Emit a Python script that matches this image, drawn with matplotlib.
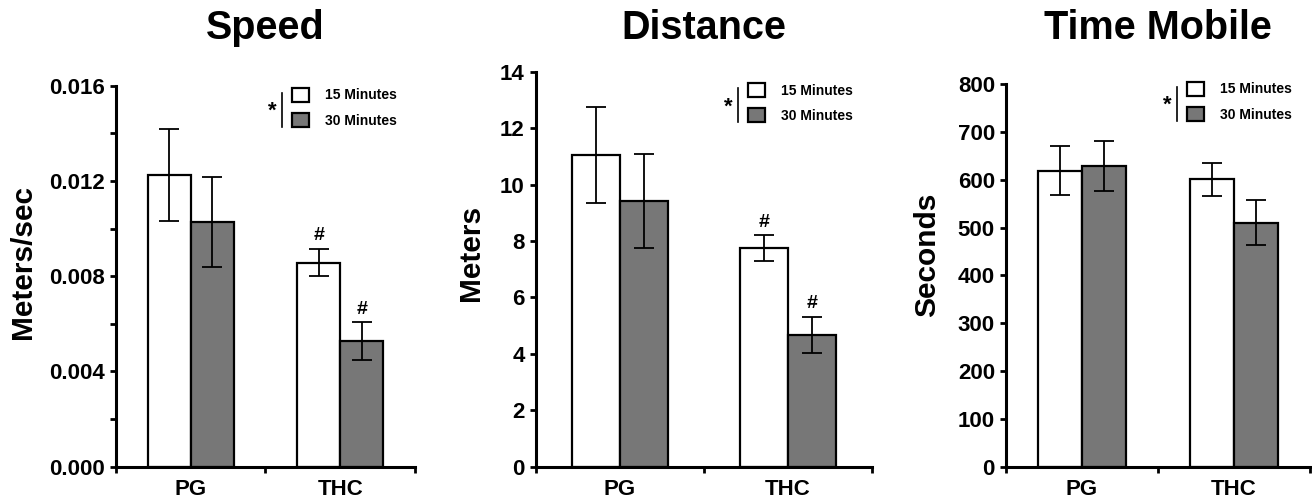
import matplotlib
matplotlib.use("Agg")
import matplotlib.pyplot as plt
import matplotlib.transforms as mtransforms
from matplotlib.ticker import MultipleLocator
import numpy as np

plt.rcParams['font.family'] = ['Liberation Sans', 'DejaVu Sans']
plt.rcParams['font.weight'] = 'bold'

# Data
groups = ["PG", "THC"]
series_labels = ["15 Minutes", "30 Minutes"]
titles = ["Speed", "Distance", "Time Mobile"]
ylabels = ["Meters/sec", "Meters", "Seconds"]

speed_15 = [0.01226, 0.00857]
speed_15_err = [0.00193, 0.00058]
speed_30 = [0.01027, 0.00528]
speed_30_err = [0.00189, 0.00078]

dist_15 = [11.06, 7.74]
dist_15_err = [1.70, 0.46]
dist_30 = [9.42, 4.67]
dist_30_err = [1.68, 0.63]

mobile_15 = [619, 601]
mobile_15_err = [51, 35]
mobile_30 = [629, 510]
mobile_30_err = [52, 47]

# '#' marks above bars (group index) for 15 / 30 min
hash_15 = [[1], [1], []]
hash_30 = [[1], [1], []]

panels = [
    (speed_15, speed_15_err, speed_30, speed_30_err),
    (dist_15, dist_15_err, dist_30, dist_30_err),
    (mobile_15, mobile_15_err, mobile_30, mobile_30_err),
]
ylims = [(0, 0.016), (0, 14), (0, 800)]
ymajor = [0.004, 2, 100]
yminor = [0.002, None, None]
yfmt = ["{:.3f}", "{:.0f}", "{:.0f}"]

# axes rectangles in figure fraction [left, bottom, width, height]
rects = [
    [0.0884, 0.0666, 0.2279, 0.762],
    [0.4085, 0.0666, 0.2561, 0.790],
    [0.7668, 0.0666, 0.2317, 0.765],
]
legend_anchor = [(0.589, 0.995), (0.631, 0.972), (0.595, 1.007)]
ylabel_pos = [(-0.311, 0.538), (-0.193, 0.541), (-0.26, 0.554)]

gray = "#777777"
width = 0.288
x = np.array([0.5, 1.5])

fig = plt.figure(figsize=(13.12, 5.0), dpi=100)

for i, (m15, e15, m30, e30) in enumerate(panels):
    ax = fig.add_axes(rects[i])
    ekw = dict(ecolor="black", elinewidth=1.3, capsize=7, capthick=1.3)
    b1 = ax.bar(x - width / 2, m15, width, color="white", edgecolor="black", linewidth=1.6,
                yerr=e15, error_kw=ekw, label=series_labels[0], zorder=2)
    b2 = ax.bar(x + width / 2, m30, width, color=gray, edgecolor="black", linewidth=1.6,
                yerr=e30, error_kw=ekw, label=series_labels[1], zorder=2)

    ax.set_xlim(0, 2)
    ax.set_ylim(*ylims[i])
    ax.yaxis.set_major_locator(MultipleLocator(ymajor[i]))
    if yminor[i]:
        ax.yaxis.set_minor_locator(MultipleLocator(yminor[i]))
    ax.set_yticklabels([yfmt[i].format(v) for v in ax.get_yticks()])
    ax.set_xticks([0, 1, 2])
    ax.set_xticklabels([])
    ax.set_xticks(x, minor=True)
    ax.set_xticklabels(groups, minor=True)
    ax.tick_params(axis="x", which="minor", length=0, labelsize=16, pad=9)
    ax.tick_params(axis="x", which="major", length=4, width=2)
    ax.tick_params(axis="y", which="both", length=4, width=2, labelsize=16, pad=4)

    for s in ["top", "right"]:
        ax.spines[s].set_visible(False)
    for s in ["left", "bottom"]:
        ax.spines[s].set_linewidth(2.2)

    ax.set_ylabel(ylabels[i], fontsize=21.5, fontweight="bold")
    ax.yaxis.set_label_coords(*ylabel_pos[i])
    ax.yaxis.label.set_va("center")

    yr = ylims[i][1] * 0.012
    for g in hash_15[i]:
        ax.text(x[g] - width / 2, m15[g] + e15[g] + yr, "#", ha="center", va="bottom",
                fontsize=14, fontweight="bold")
    for g in hash_30[i]:
        ax.text(x[g] + width / 2, m30[g] + e30[g] + yr, "#", ha="center", va="bottom",
                fontsize=14, fontweight="bold")

    leg = ax.legend(handles=[b1, b2], loc="upper left", bbox_to_anchor=legend_anchor[i],
                    frameon=False, fontsize=10, borderpad=0, borderaxespad=0,
                    handlelength=1.2, handleheight=1.2, handletextpad=1.2, labelspacing=0.75)
    for t in leg.get_texts():
        t.set_fontweight("bold")

    # significance bracket next to legend
    ax_x, ax_y = legend_anchor[i]
    tr_top = mtransforms.offset_copy(ax.transAxes, fig=fig, x=-10, y=-5, units="dots")
    tr_bot = mtransforms.offset_copy(ax.transAxes, fig=fig, x=-10, y=-39, units="dots")
    p0 = tr_top.transform((ax_x, ax_y))
    p1 = tr_bot.transform((ax_x, ax_y))
    fig.add_artist(plt.Line2D([p0[0], p1[0]], [p0[1], p1[1]], transform=None,
                              color="black", linewidth=1.2))
    tr_star = mtransforms.offset_copy(ax.transAxes, fig=fig, x=-20, y=-24, units="dots")
    ax.text(ax_x, ax_y, "*", transform=tr_star, ha="center", va="center",
            fontsize=16, fontweight="bold")

    fig.text(rects[i][0] + rects[i][2] / 2, 1 - 39 / 500, titles[i], ha="center",
             va="baseline", fontsize=28.5, fontweight="bold")

fig.savefig("out.png", dpi=100)
